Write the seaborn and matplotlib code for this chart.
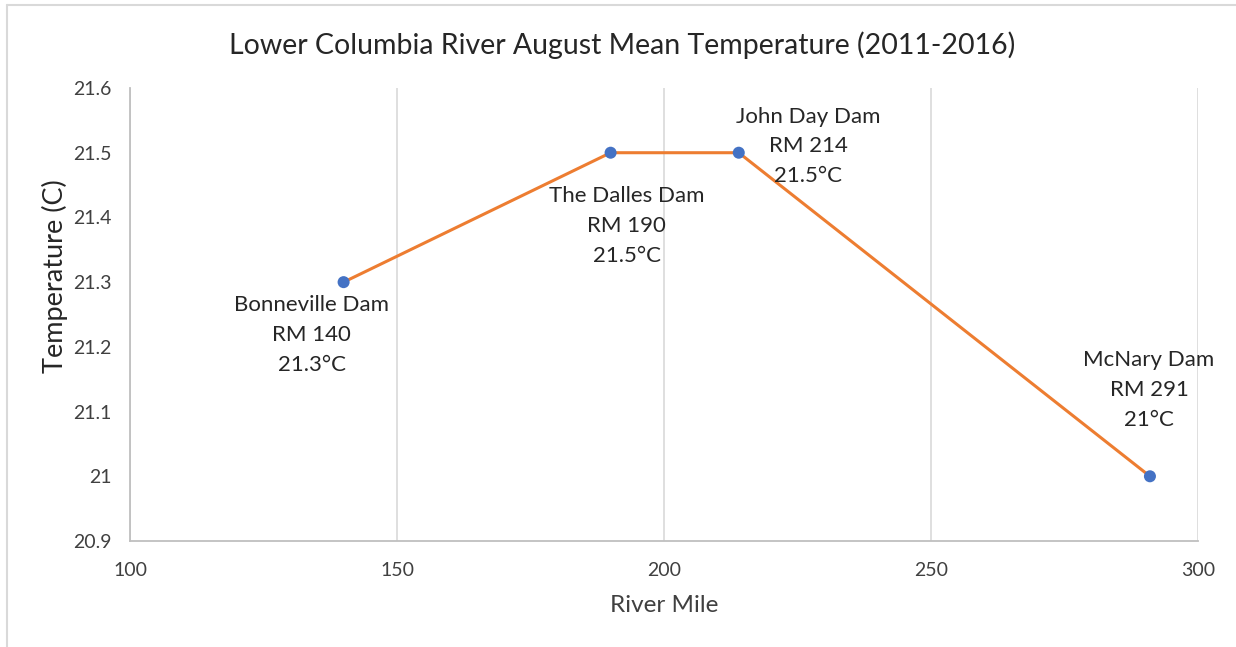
import matplotlib
matplotlib.use("Agg")
import matplotlib.pyplot as plt
from matplotlib.lines import Line2D
from matplotlib.ticker import FuncFormatter
import pandas as pd
import seaborn as sns

# data
dams = ["Bonneville Dam", "The Dalles Dam", "John Day Dam", "McNary Dam"]
river_mile = [140, 190, 214, 291]
temperature = [21.3, 21.5, 21.5, 21.0]
temp_labels = ["21.3°C", "21.5°C", "21.5°C", "21°C"]
x_ticks = [100, 150, 200, 250, 300]
y_ticks = [20.9, 21.0, 21.1, 21.2, 21.3, 21.4, 21.5, 21.6]

df = pd.DataFrame({"dam": dams, "rm": river_mile, "temp": temperature})

sns.set_theme(style="white")
plt.rcParams["font.family"] = ["Lato", "DejaVu Sans"]

W, H = 1236, 647
fig = plt.figure(figsize=(W / 100, H / 100), dpi=100)
ax = fig.add_axes([130 / W, 1 - 541 / H, 1068 / W, 453 / H])

sns.lineplot(data=df, x="rm", y="temp", ax=ax, color="#ED7D31", linewidth=2.2, zorder=2)
sns.scatterplot(data=df, x="rm", y="temp", ax=ax, color="#4472C4", s=75,
                edgecolor="none", zorder=3)

# label offsets (points) for each data label
offsets = [(-23, -38), (11.5, -52.5), (50, 4.5), (-0.7, 62)]
for i in range(len(dams)):
    txt = f"{dams[i]}\nRM {river_mile[i]}\n{temp_labels[i]}"
    ax.annotate(txt, (river_mile[i], temperature[i]), xytext=offsets[i],
                textcoords="offset points", ha="center", va="center",
                fontsize=16, color="#262626", linespacing=1.62)

ax.set_xlim(100, 300)
ax.set_ylim(20.9, 21.6)
ax.set_xticks(x_ticks)
ax.set_yticks(y_ticks)
ax.yaxis.set_major_formatter(FuncFormatter(lambda v, p: f"{v:g}"))
ax.tick_params(axis="both", length=0, labelsize=14, labelcolor="#404040")
ax.tick_params(axis="x", pad=15)
ax.tick_params(axis="y", pad=13.5)

ax.grid(axis="x", color="#D9D9D9", linewidth=1.2)
ax.grid(axis="y", visible=False)
for side in ["top", "right"]:
    ax.spines[side].set_visible(False)
for side in ["left", "bottom"]:
    ax.spines[side].set_color("#BFBFBF")
    ax.spines[side].set_linewidth(1.3)

ax.set_xlabel("")
ax.set_ylabel("")
fig.text(664 / W, 1 - 605 / H, "River Mile", ha="center", va="center",
         fontsize=17.5, color="#404040")
fig.text(55 / W, 1 - 276 / H, "Temperature (C)", ha="center", va="center",
         rotation=90, fontsize=19.5, color="#262626")
fig.text(622 / W, 1 - 45 / H, "Lower Columbia River August Mean Temperature (2011-2016)",
         ha="center", va="center", fontsize=20.5, color="#262626")

# light frame around the chart like the screenshot
fig.add_artist(Line2D([7 / W, 7 / W], [0, 1 - 5 / H], transform=fig.transFigure,
                      color="#D9D9D9", linewidth=1.5))
fig.add_artist(Line2D([7 / W, 1], [1 - 5 / H, 1 - 5 / H], transform=fig.transFigure,
                      color="#D9D9D9", linewidth=1.5))

fig.savefig("out.png", dpi=100)
